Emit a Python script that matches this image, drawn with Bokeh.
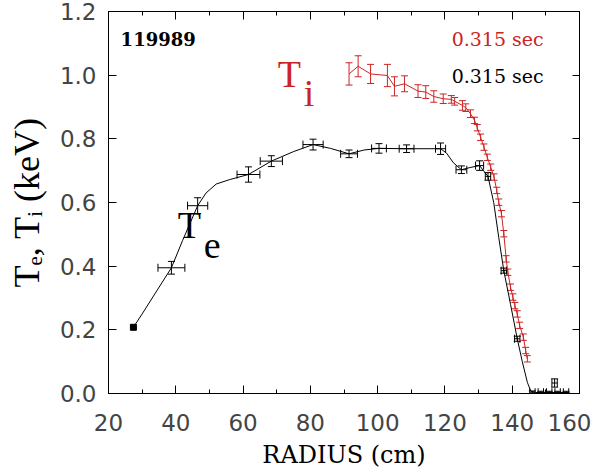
import numpy as np
from bokeh.plotting import figure
from bokeh.models import (Range1d, LinearAxis, SingleIntervalTicker, NumeralTickFormatter,
                          CustomJSTickFormatter, Whisker, TeeHead, ColumnDataSource, Label)
from bokeh.embed import file_html
from bokeh.resources import INLINE

# ---------------- data ----------------
shot_label = "119989"
time_label = "0.315 sec"
x_title = "RADIUS (cm)"
y_title = "T\u2091, T\u1d62 (keV)"

# Te measurements
te_r = [27.4, 38.7, 46.5, 61.6, 68.4, 80.8, 91.5, 100.4, 108.6, 118.7, 124.9, 130.3, 132.8,
        137.5, 141.5, 146.0, 148.5, 151.0, 152.6, 153.5, 156.0]
te_t = [0.208, 0.395, 0.59, 0.688, 0.73, 0.782, 0.753, 0.77, 0.769, 0.769, 0.703, 0.716, 0.682,
        0.386, 0.172, 0.004, 0.004, 0.004, 0.033, 0.004, 0.004]
te_rerr = [0, 4.0, 3.0, 3.4, 3.3, 3.0, 2.5, 2.2, 2.2, 1.5, 1.6, 1.2, 0.8,
           0.8, 0.8, 0.8, 0.8, 0.8, 0.8, 0.8, 0.8]
te_terr = [0, 0.02, 0.025, 0.024, 0.017, 0.017, 0.012, 0.015, 0.012, 0.018, 0.012, 0.015, 0.012,
           0.008, 0.008, 0.004, 0.003, 0.003, 0.013, 0.003, 0.003]

# Te fitted profile (smooth line)
te_fit_r = [27.4, 30, 33, 36, 38.7, 42, 46.5, 49, 52, 56, 61.6, 68.4, 75, 80.8, 86, 91.5, 96,
            100.4, 108.6, 118.7, 120.5, 122.5, 124.9, 127.5, 130.3, 132.8, 134.5, 136, 137.5,
            139.5, 141.5, 143, 144.5, 145.5, 147, 157]
te_fit_t = [0.208, 0.25, 0.30, 0.35, 0.395, 0.48, 0.59, 0.63, 0.658, 0.672, 0.688, 0.73, 0.76,
            0.782, 0.77, 0.753, 0.765, 0.77, 0.769, 0.769, 0.755, 0.725, 0.703, 0.71, 0.716,
            0.682, 0.6, 0.49, 0.386, 0.28, 0.172, 0.1, 0.035, 0.008, 0.003, 0.003]

# Ti measurements
ti_r = [91.5, 94.2, 97.9, 102.9, 105.0, 108.0, 112.0, 114.3, 116.7, 119.5, 121.9, 122.9, 125.2,
        126.2, 127.6, 128.8, 129.6, 130.6, 131.6, 132.6, 133.6, 134.6, 135.4, 136.0, 136.8,
        137.5, 138.2, 138.7, 139.5, 140.2, 140.8, 141.5, 142.2, 143.3, 144.0, 144.5]
ti_t = [1.004, 1.028, 1.004, 0.999, 0.965, 0.973, 0.95, 0.947, 0.933, 0.926, 0.924, 0.918, 0.905,
        0.898, 0.879, 0.858, 0.835, 0.805, 0.774, 0.742, 0.711, 0.68, 0.638, 0.601, 0.565,
        0.502, 0.423, 0.381, 0.334, 0.303, 0.276, 0.25, 0.214, 0.177, 0.135, 0.109]
ti_terr = [0.035, 0.033, 0.03, 0.035, 0.03, 0.025, 0.02, 0.02, 0.018, 0.015, 0.012, 0.012, 0.015,
           0.012, 0.012, 0.01, 0.01, 0.01, 0.01, 0.01, 0.01, 0.01, 0.01, 0.01, 0.01,
           0.01, 0.01, 0.01, 0.01, 0.01, 0.01, 0.01, 0.01, 0.01, 0.01, 0.01]

x_ticks_interval = 20
y_ticks_interval = 0.2

RED = "#cc2424"
TICK_FONT = "DejaVu Sans"
SERIF = "Liberation Serif"

# ---------------- figure ----------------
p = figure(frame_width=471, frame_height=382, output_backend="svg", toolbar_location=None,
           x_range=Range1d(20, 160), y_range=Range1d(0, 1.2001),
           x_axis_location=None, y_axis_location=None,
           min_border_left=108, min_border_top=11, min_border_right=12, min_border_bottom=60)
p.xgrid.visible = False
p.ygrid.visible = False
p.outline_line_color = "black"
p.background_fill_color = "white"
p.border_fill_color = "white"

xt = SingleIntervalTicker(interval=x_ticks_interval, num_minor_ticks=2)
yt = SingleIntervalTicker(interval=y_ticks_interval, num_minor_ticks=0)
blank = CustomJSTickFormatter(code="return ''")

bottom = LinearAxis(ticker=xt, axis_label=x_title)
left = LinearAxis(ticker=yt, formatter=NumeralTickFormatter(format="0.0"), axis_label=y_title)
top = LinearAxis(ticker=xt, formatter=blank, major_label_standoff=0)
right = LinearAxis(ticker=yt, formatter=blank, major_label_standoff=0)
p.add_layout(bottom, "below")
p.add_layout(left, "left")
p.add_layout(top, "above")
p.add_layout(right, "right")

for ax in [bottom, left, top, right]:
    ax.major_tick_in = 8
    ax.major_tick_out = 0
    ax.minor_tick_in = 4
    ax.minor_tick_out = 0
    ax.axis_line_color = "black"
    ax.major_tick_line_color = "black"
    ax.minor_tick_line_color = "black"
    ax.major_label_text_font = TICK_FONT
    ax.major_label_text_color = "#444444"

bottom.major_label_text_font_size = "23px"
bottom.major_label_standoff = 20
bottom.axis_label_text_font = "DejaVu Serif"
bottom.axis_label_text_font_style = "normal"
bottom.axis_label_text_font_size = "24px"
bottom.axis_label_text_color = "black"
bottom.axis_label_standoff = 7

left.major_label_text_font_size = "23px"
left.major_label_standoff = 12
left.axis_label_text_font = SERIF
left.axis_label_text_font_style = "normal"
left.axis_label_text_font_size = "36px"
left.axis_label_text_color = "black"
left.axis_label_standoff = 10
right.major_tick_in = 7

# ---------------- Te ----------------
p.line(te_fit_r, te_fit_t, line_color="black", line_width=1)
p.scatter(te_r[:1], te_t[:1], marker="square", size=6, color="black")

te_src = ColumnDataSource(dict(
    r=te_r[1:], t=te_t[1:],
    rlo=[a - b for a, b in zip(te_r[1:], te_rerr[1:])],
    rhi=[a + b for a, b in zip(te_r[1:], te_rerr[1:])],
    tlo=[a - b for a, b in zip(te_t[1:], te_terr[1:])],
    thi=[a + b for a, b in zip(te_t[1:], te_terr[1:])],
))
p.add_layout(Whisker(source=te_src, base="t", lower="rlo", upper="rhi", dimension="width",
                     line_color="black", line_width=1,
                     upper_head=TeeHead(size=8, line_color="black", line_width=1),
                     lower_head=TeeHead(size=8, line_color="black", line_width=1)))
p.add_layout(Whisker(source=te_src, base="r", lower="tlo", upper="thi", dimension="height",
                     line_color="black", line_width=1,
                     upper_head=TeeHead(size=7, line_color="black", line_width=1),
                     lower_head=TeeHead(size=7, line_color="black", line_width=1)))

# ---------------- Ti ----------------
p.line(ti_r, ti_t, line_color=RED, line_width=1)
ti_src = ColumnDataSource(dict(
    r=ti_r, t=ti_t,
    tlo=[a - b for a, b in zip(ti_t, ti_terr)],
    thi=[a + b for a, b in zip(ti_t, ti_terr)],
))
p.add_layout(Whisker(source=ti_src, base="r", lower="tlo", upper="thi", dimension="height",
                     line_color=RED, line_width=1,
                     upper_head=TeeHead(size=7, line_color=RED, line_width=1),
                     lower_head=TeeHead(size=7, line_color=RED, line_width=1)))

# ---------------- text ----------------
def lab(x, y, text, size, color="black", font=SERIF, style="normal"):
    p.add_layout(Label(x=x, y=y, text=text, text_font=font, text_font_size=size,
                       text_color=color, text_font_style=style,
                       text_align="left", text_baseline="alphabetic"))

lab(23.6, 1.115, shot_label, "18px", font="DejaVu Serif", style="bold")
lab(122.0, 1.115, time_label, "19px", color=RED, font="DejaVu Serif")
lab(122.0, 0.996, time_label, "19px", font="DejaVu Serif")

lab(70.3, 1.005, "T", "38px", color=RED)
lab(78.0, 0.943, "i", "38px", color=RED)
lab(40.6, 0.528, "T", "38px")
lab(48.3, 0.465, "e", "38px")

open("out.html", "w").write(file_html(p, INLINE))
